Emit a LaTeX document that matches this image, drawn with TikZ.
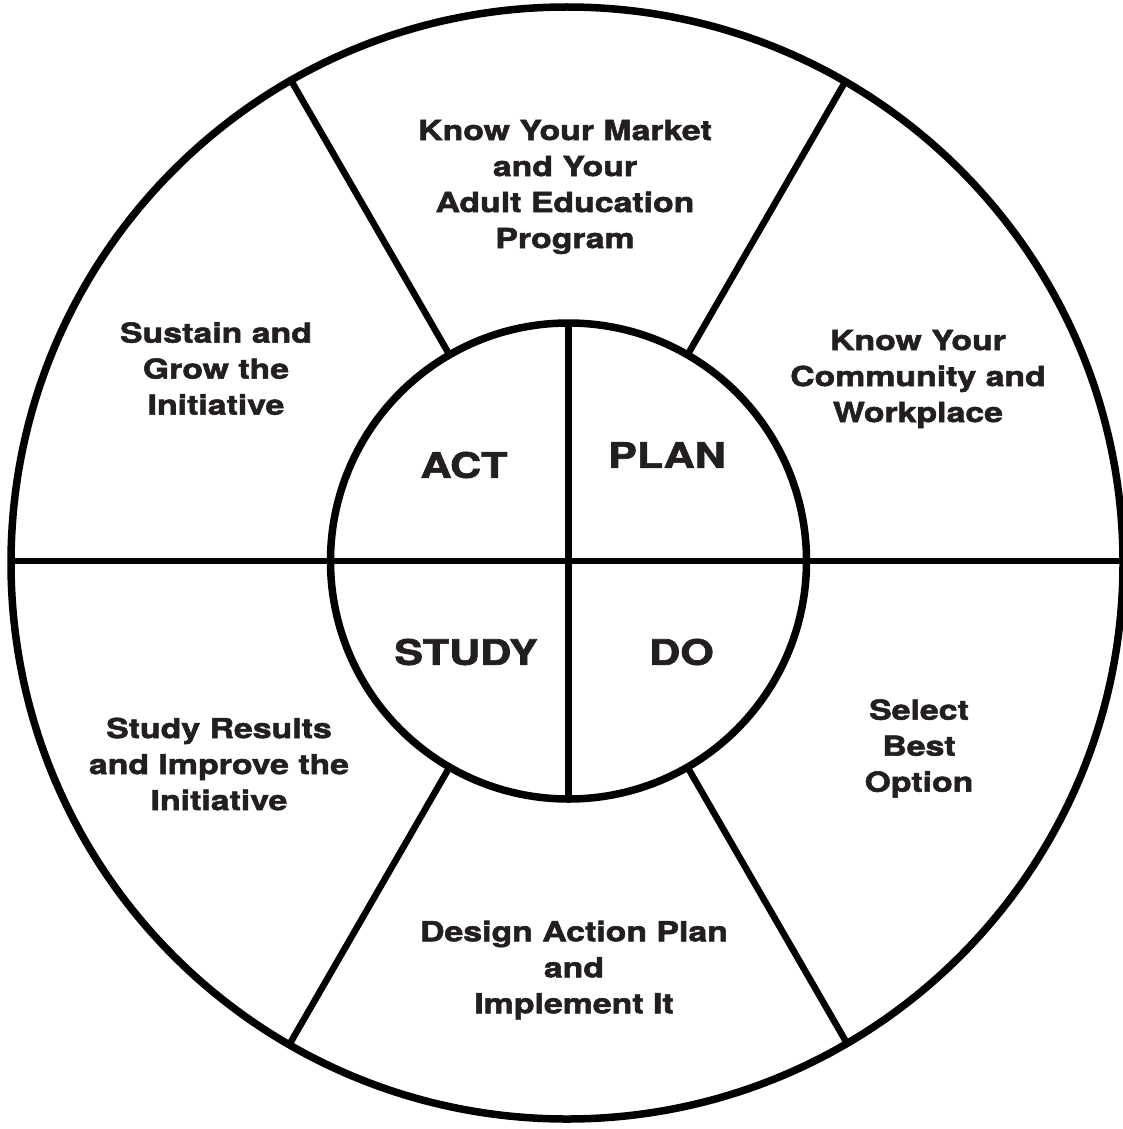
\documentclass[tikz,border=0pt]{standalone}
\usepackage{fontspec}
\usetikzlibrary{calc}
\setmainfont{TeX Gyre Heros}[BoldFeatures={FakeStretch=1.23,FakeBold=2}]
\definecolor{ink}{HTML}{231F20}
\begin{document}
\begin{tikzpicture}[x=1pt,y=-1pt,
  ring/.style={line width=7.5pt, draw=black},
  divider/.style={line width=6.5pt, draw=black},
  stagelabel/.style={font=\fontsize{27.5}{36}\selectfont\bfseries, text=ink, align=center, inner sep=0pt},
  phaselabel/.style={font=\fontsize{35}{40}\selectfont\bfseries, text=ink, inner sep=0pt}]
\useasboundingbox[fill=white] (0,0) rectangle (1123,1129);

% centres and radii of the two rings
\coordinate (oc) at (567,563);
\coordinate (ic) at (568.5,561);
\def\outerR{556}
\def\innerR{238}

% spokes between the rings, clipped to the outer ring
\begin{scope}
  \clip (oc) circle (\outerR);
  \foreach \a in {0,60,120,180,240,300}
    \draw[divider] ($(ic)+(\a:\innerR)$) -- ($(ic)+(\a:700)$);
\end{scope}

% cross splitting the inner ring
\draw[divider] ($(ic)+(0,-\innerR)$) -- ($(ic)+(0,\innerR)$);
\draw[divider] ($(ic)+(-\innerR,0)$) -- ($(ic)+(\innerR,0)$);

\draw[ring] (oc) circle (\outerR);
\draw[ring] (ic) circle (\innerR);

% outer stages
\node[stagelabel] (market) at (565,187) {Know Your Market\\and Your\\Adult Education\\Program};
\node[stagelabel] (community) at (918,379) {Know Your\\Community and\\Workplace};
\node[stagelabel] (select) at (919,748.5) {Select\\Best\\Option};
\node[stagelabel] (design) at (574,970) {Design Action Plan\\and\\Implement It};
\node[stagelabel] (results) at (219,764) {Study Results\\and Improve the\\Initiative};
\node[stagelabel] (sustain) at (216,368.5) {Sustain and\\Grow the\\Initiative};

% PDSA phases
\node[phaselabel] (act) at (464,465) {ACT};
\node[phaselabel] (plan) at (667,455) {PLAN};
\node[phaselabel] (study) at (466,652) {STUDY};
\node[phaselabel] (do) at (681.5,652) {DO};
\end{tikzpicture}
\end{document}
